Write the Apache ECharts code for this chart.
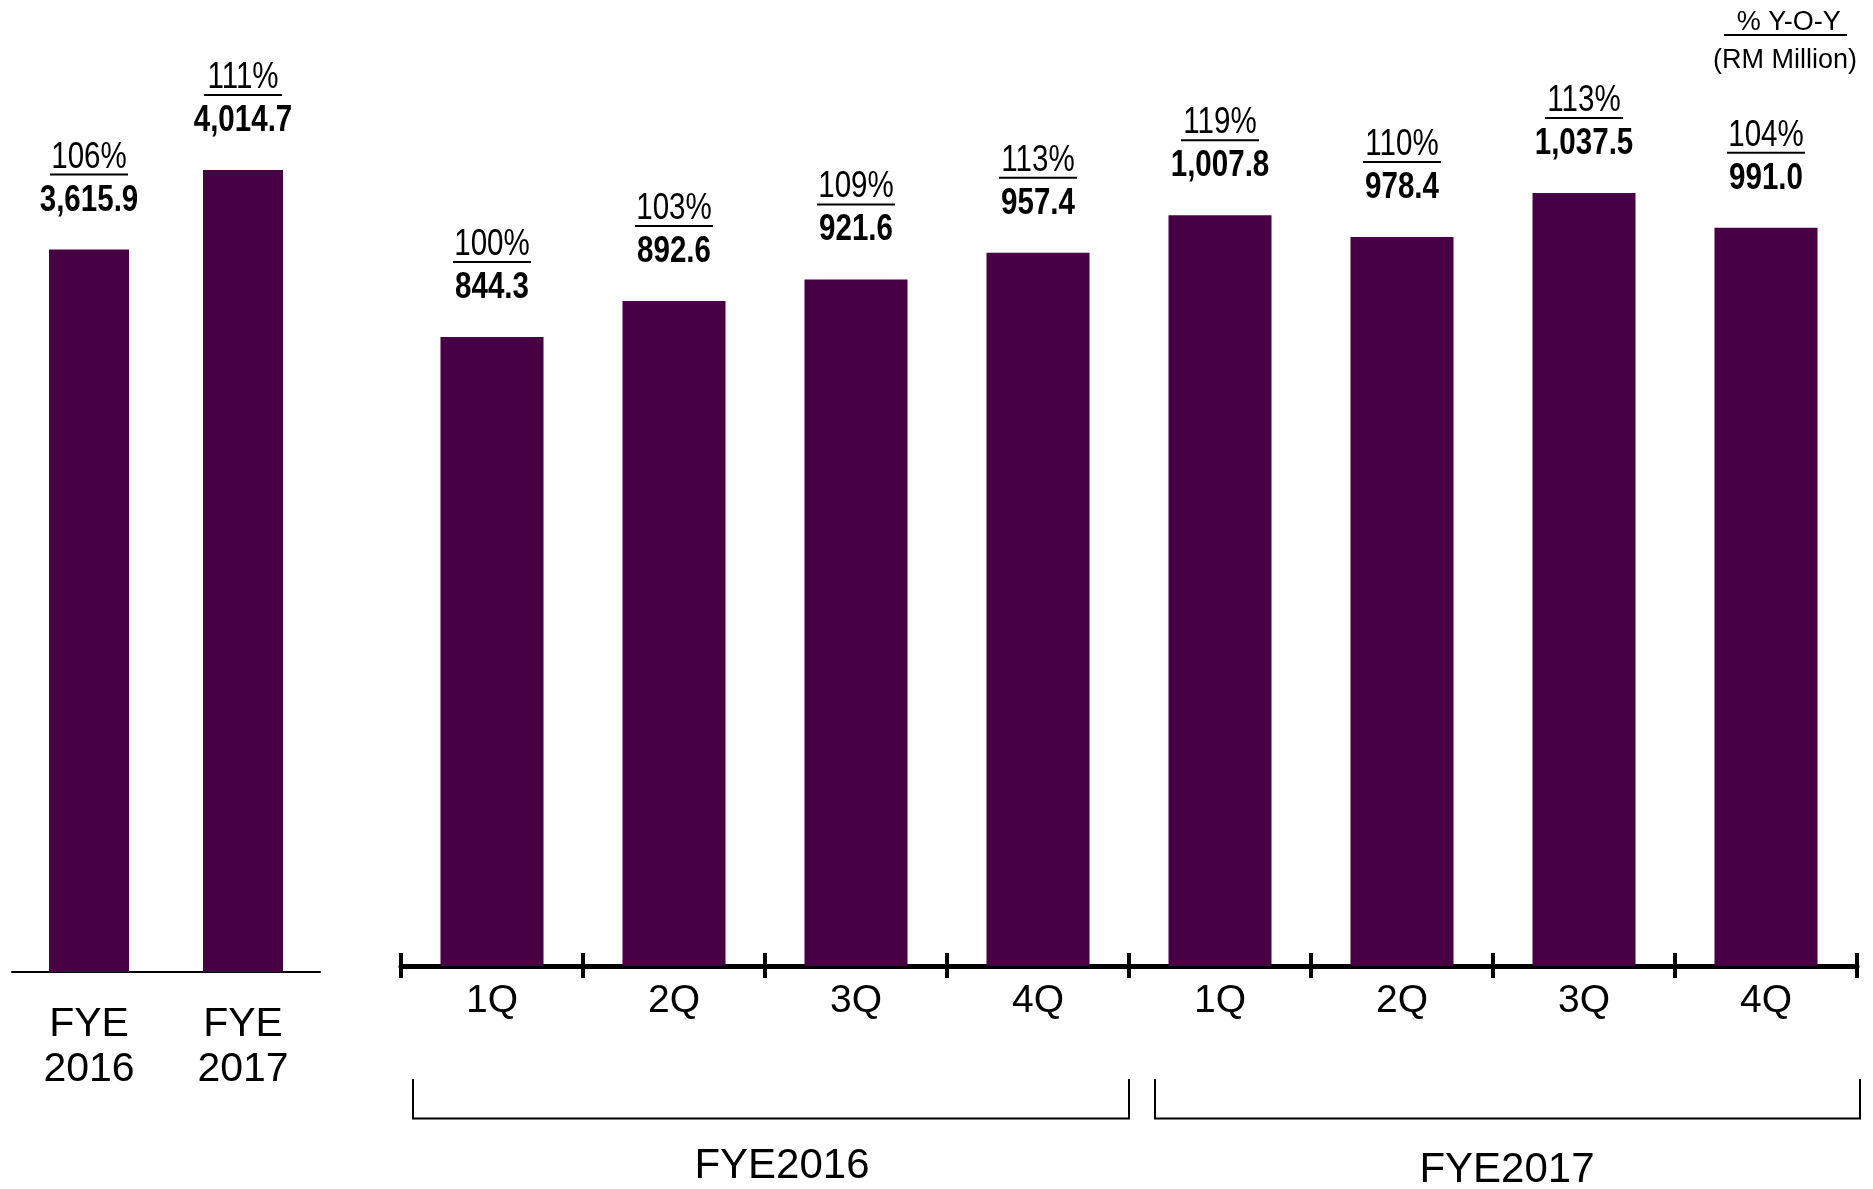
<!DOCTYPE html>
<html>
<head>
<meta charset="utf-8">
<title>Revenue FYE2016 - FYE2017</title>
<script src="https://cdn.jsdelivr.net/npm/echarts@6/dist/echarts.min.js"></script>
<style>
  html, body { margin: 0; padding: 0; background: #fff; }
  #chart { width: 1873px; height: 1189px; }
</style>
</head>
<body>
<div id="chart"></div>
<script>
// Annual totals (RM Million) and year-on-year growth
const annualCats = ['FYE\n2016', 'FYE\n2017'];
const annualRevenue = [3615.9, 4014.7];
const annualGrowth = [106, 111];

// Quarterly revenue (RM Million) and year-on-year growth
const quarterCats = ['1Q', '2Q', '3Q', '4Q', '1Q', '2Q', '3Q', '4Q'];
const quarterRevenue = [844.3, 892.6, 921.6, 957.4, 1007.8, 978.4, 1037.5, 991.0];
const quarterGrowth = [100, 103, 109, 113, 119, 110, 113, 104];

// Financial-year groups under the quarterly axis
const groupNames = ['FYE2016', 'FYE2017'];

const BAR = '#470043';
const SANS = '"Liberation Sans", Arial, sans-serif';
const CONDENSE = 0.82;   // narrow face for the value labels

const fmt = v => v.toLocaleString('en-US', { minimumFractionDigits: 1, maximumFractionDigits: 1 });

// Two-line label above each bar: underlined growth %, then the bold value
function labelSeries(axisIndex, values, growth) {
  return {
    type: 'custom',
    xAxisIndex: axisIndex,
    yAxisIndex: axisIndex,
    z: 5,
    silent: true,
    encode: { x: 0, y: 1 },
    data: values.map((v, i) => [i, v]),
    renderItem: (params, api) => {
      const idx = api.value(0);
      const v = api.value(1);
      const pt = api.coord([idx, v]);
      const x = pt[0];
      const top = pt[1];
      return {
        type: 'group',
        children: [
          {
            type: 'text', x: x, y: top - 92, scaleX: CONDENSE,
            style: { text: growth[idx] + '%', font: '36px ' + SANS, fill: '#000',
                     align: 'center', verticalAlign: 'middle' }
          },
          {
            type: 'rect',
            shape: { x: x - 39, y: top - 76, width: 78, height: 2 },
            style: { fill: '#000' }
          },
          {
            type: 'text', x: x, y: top - 49, scaleX: CONDENSE,
            style: { text: fmt(v), font: 'bold 36px ' + SANS, fill: '#000',
                     align: 'center', verticalAlign: 'middle' }
          }
        ]
      };
    }
  };
}

const chart = echarts.init(document.getElementById('chart'), null, { renderer: 'canvas' });

chart.setOption({
  backgroundColor: '#ffffff',
  animation: false,
  grid: [
    { left: 12, width: 308, top: 73, bottom: 217 },
    { left: 401, width: 1456, top: 72, bottom: 223 }
  ],
  xAxis: [
    {
      gridIndex: 0, type: 'category', position: 'bottom', data: annualCats,
      axisLine: { show: true, lineStyle: { color: '#000', width: 2 } },
      axisTick: { show: false },
      axisLabel: { margin: 30, fontFamily: SANS, fontSize: 41, lineHeight: 45, color: '#000' }
    },
    {
      gridIndex: 1, type: 'category', position: 'bottom', data: quarterCats,
      axisLine: { show: true, lineStyle: { color: '#000', width: 5 } },
      axisTick: { show: true, inside: false, length: 12, lineStyle: { color: '#000', width: 4 } },
      axisLabel: { margin: 15, fontFamily: SANS, fontSize: 39, lineHeight: 40, color: '#000' }
    },
    {
      // upper half of the boundary ticks
      gridIndex: 1, type: 'category', position: 'bottom', data: quarterCats,
      axisLine: { show: false },
      axisTick: { show: true, inside: true, length: 13, lineStyle: { color: '#000', width: 4 } },
      axisLabel: { show: false }
    }
  ],
  yAxis: [
    { gridIndex: 0, type: 'value', min: 0, max: 4500, show: false },
    { gridIndex: 1, type: 'value', min: 0, max: 1200, show: false }
  ],
  series: [
    {
      type: 'bar', xAxisIndex: 0, yAxisIndex: 0, data: annualRevenue,
      barWidth: 80, itemStyle: { color: BAR }
    },
    {
      type: 'bar', xAxisIndex: 1, yAxisIndex: 1, data: quarterRevenue,
      barWidth: 103, itemStyle: { color: BAR }, z: 1
    },
    labelSeries(0, annualRevenue, annualGrowth),
    labelSeries(1, quarterRevenue, quarterGrowth)
  ],
  graphic: [
    // unit note, top right
    {
      type: 'text',
      style: { text: ' % Y-O-Y', x: 1785, y: 23, font: '27px ' + SANS, fill: '#000',
               align: 'center', verticalAlign: 'middle' }
    },
    { type: 'line', shape: { x1: 1724, y1: 35, x2: 1847, y2: 35 }, style: { stroke: '#000', lineWidth: 2 } },
    {
      type: 'text',
      style: { text: '(RM Million)', x: 1785, y: 61, font: '27px ' + SANS, fill: '#000',
               align: 'center', verticalAlign: 'middle' }
    },
    // financial-year brackets
    {
      type: 'polyline',
      shape: { points: [[413, 1079], [413, 1118.5], [1129, 1118.5], [1129, 1079]] },
      style: { stroke: '#000', lineWidth: 2, fill: null }
    },
    {
      type: 'polyline',
      shape: { points: [[1155, 1079], [1155, 1118.5], [1860, 1118.5], [1860, 1079]] },
      style: { stroke: '#000', lineWidth: 2, fill: null }
    },
    {
      type: 'text',
      style: { text: groupNames[0], x: 782, y: 1166, font: '42px ' + SANS, fill: '#000',
               align: 'center', verticalAlign: 'middle' }
    },
    {
      type: 'text',
      style: { text: groupNames[1], x: 1507, y: 1170, font: '42px ' + SANS, fill: '#000',
               align: 'center', verticalAlign: 'middle' }
    }
  ]
});
</script>
</body>
</html>
